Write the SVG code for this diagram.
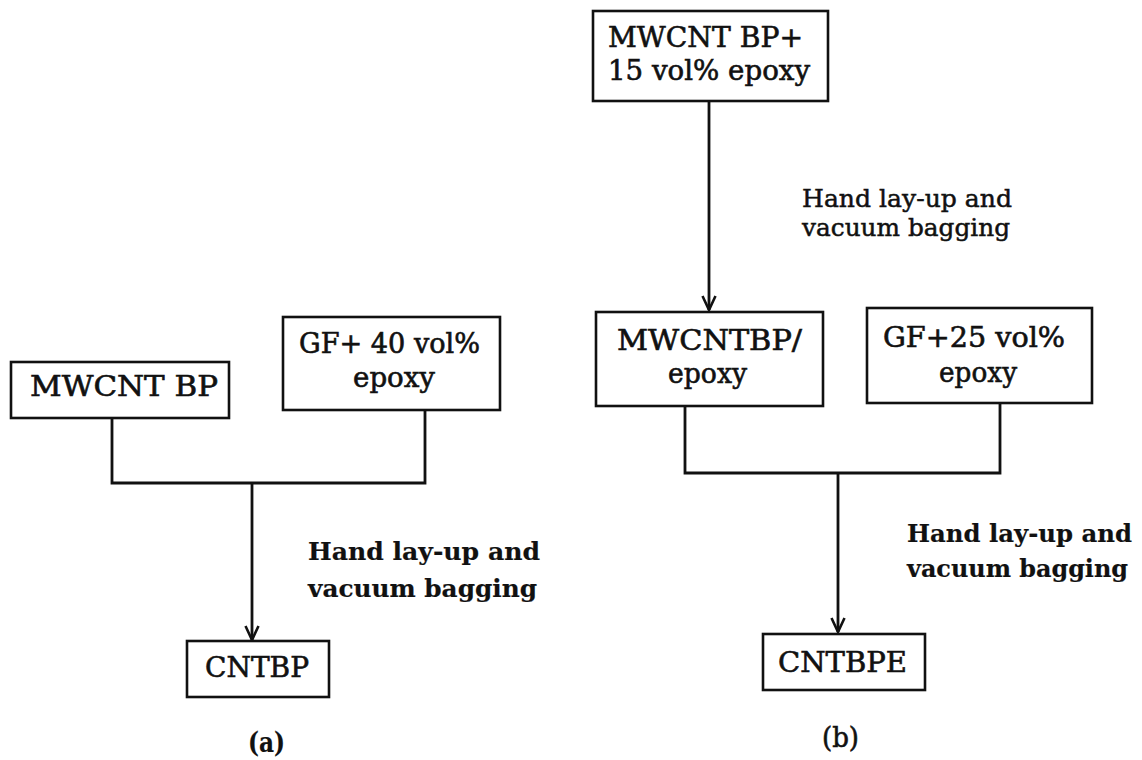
<svg xmlns="http://www.w3.org/2000/svg" width="1142" height="760" viewBox="0 0 1142 760">
<style>
.box{fill:#fff;stroke:#111;stroke-width:2.6}
.t{font-family:"DejaVu Serif","Liberation Serif",serif;font-size:27px;fill:#111;stroke:#111;stroke-width:0.6}
.l{font-family:"DejaVu Serif","Liberation Serif",serif;font-size:25px;fill:#111;stroke:#111;stroke-width:0.5}
.b{font-weight:bold;stroke-width:0.2}
.c{fill:none;stroke:#111;stroke-width:2.8}
</style>
<defs>
<marker id="ah" markerUnits="userSpaceOnUse" viewBox="-15 -8 17 16" refX="0" refY="0" markerWidth="17" markerHeight="16" orient="auto">
<path d="M-14,-6.5 L0,0 L-14,6.5" fill="none" stroke="#111" stroke-width="2.6"/>
</marker>
</defs>
<rect width="1142" height="760" fill="#fff"/>
<g id="connectors">
<path class="c" d="M112,418 V483 H425 V410"/>
<path class="c" d="M252,483 V640" marker-end="url(#ah)"/>
<path class="c" d="M709,101 V310" marker-end="url(#ah)"/>
<path class="c" d="M685,406 V473 H1000 V403"/>
<path class="c" d="M838,473 V632" marker-end="url(#ah)"/>
</g>
<g id="n_mwcnt_bp">
<rect class="box" x="11" y="362" width="218" height="56"/>
<text class="t" x="30" y="396" textLength="188" lengthAdjust="spacingAndGlyphs">MWCNT BP</text>
</g>
<g id="n_gf40">
<rect class="box" x="283" y="317" width="217" height="93"/>
<text class="t" x="299" y="353" textLength="181" lengthAdjust="spacingAndGlyphs">GF+ 40 vol%</text>
<text class="t" x="353" y="387" textLength="82" lengthAdjust="spacingAndGlyphs">epoxy</text>
</g>
<g id="n_cntbp">
<rect class="box" x="187" y="641" width="142" height="56"/>
<text class="t" x="205" y="677" textLength="104" lengthAdjust="spacingAndGlyphs">CNTBP</text>
</g>
<g id="label_a">
<text class="l b" x="308" y="560" textLength="232" lengthAdjust="spacingAndGlyphs">Hand lay-up and</text>
<text class="l b" x="308" y="597" textLength="229" lengthAdjust="spacingAndGlyphs">vacuum bagging</text>
<text class="t b" x="248" y="752" textLength="37" lengthAdjust="spacingAndGlyphs">(a)</text>
</g>
<g id="n_mwcnt_bp_15">
<rect class="box" x="593" y="11" width="235" height="90"/>
<text class="t" x="608" y="47" textLength="195" lengthAdjust="spacingAndGlyphs">MWCNT BP+</text>
<text class="t" x="608" y="80" textLength="202" lengthAdjust="spacingAndGlyphs">15 vol% epoxy</text>
</g>
<g id="label_b_top">
<text class="l" x="802" y="207" textLength="210" lengthAdjust="spacingAndGlyphs">Hand lay-up and</text>
<text class="l" x="802" y="236" textLength="208" lengthAdjust="spacingAndGlyphs">vacuum bagging</text>
</g>
<g id="n_mwcntbp_epoxy">
<rect class="box" x="596" y="312" width="227" height="94"/>
<text class="t" x="617" y="350" textLength="185" lengthAdjust="spacingAndGlyphs">MWCNTBP/</text>
<text class="t" x="668" y="383" textLength="79" lengthAdjust="spacingAndGlyphs">epoxy</text>
</g>
<g id="n_gf25">
<rect class="box" x="867" y="308" width="225" height="95"/>
<text class="t" x="883" y="347" textLength="182" lengthAdjust="spacingAndGlyphs">GF+25 vol%</text>
<text class="t" x="939" y="382" textLength="78" lengthAdjust="spacingAndGlyphs">epoxy</text>
</g>
<g id="n_cntbpe">
<rect class="box" x="763" y="634" width="162" height="56"/>
<text class="t" x="778" y="672" textLength="129" lengthAdjust="spacingAndGlyphs">CNTBPE</text>
</g>
<g id="label_b">
<text class="l b" x="907" y="542" textLength="225" lengthAdjust="spacingAndGlyphs">Hand lay-up and</text>
<text class="l b" x="907" y="577" textLength="221" lengthAdjust="spacingAndGlyphs">vacuum bagging</text>
<text class="t" x="822" y="747" textLength="37" lengthAdjust="spacingAndGlyphs">(b)</text>
</g>
</svg>
